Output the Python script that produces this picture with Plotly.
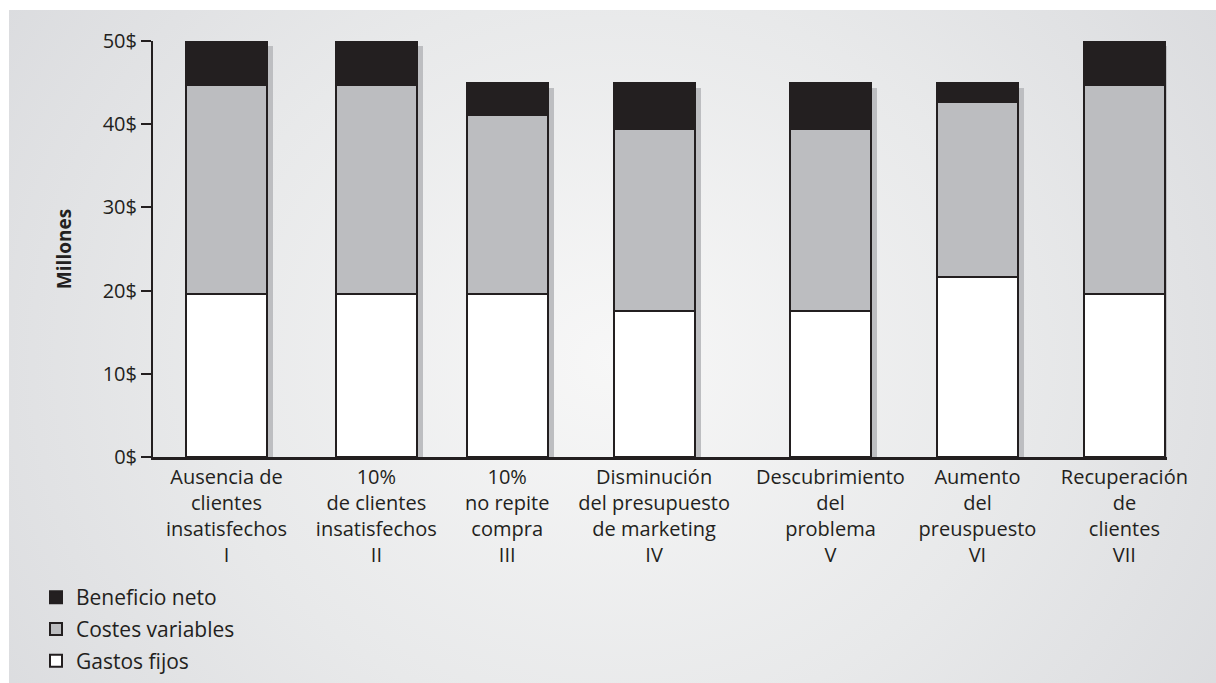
import base64
import numpy as np
import plotly.graph_objects as go

# ---- data ----
categories = [
    "Ausencia de<br>clientes<br>insatisfechos<br>I",
    "10%<br>de clientes<br>insatisfechos<br>II",
    "10%<br>no repite<br>compra<br>III",
    "Disminución<br>del presupuesto<br>de marketing<br>IV",
    "Descubrimiento<br>del<br>problema<br>V",
    "Aumento<br>del<br>preuspuesto<br>VI",
    "Recuperación<br>de<br>clientes<br>VII",
]
gastos_fijos = [19.6, 19.6, 19.6, 17.6, 17.6, 21.6, 19.6]
costes_variables = [25.1, 25.1, 21.5, 21.8, 21.8, 21.1, 25.1]
beneficio_neto = [5.3, 5.3, 3.9, 5.6, 5.6, 2.3, 5.3]
y_tickvals = [0, 10, 20, 30, 40, 50]
y_ticktext = ["0$", "10$", "20$", "30$", "40$", "50$"]

# ---- layout helpers (positions / styles) ----
x_pos = [0.50, 1.52, 2.41, 3.41, 4.61, 5.61, 6.61]
bar_w = 0.55
shadow_dx = 0.041
shadow_dy = 0.6

FONT = "Open Sans"
INK = "#231f20"
GRAY = "#bcbdc0"
SHADOW = "#bdbec1"
EDGE = "#dadbde"

fixed = np.array(gastos_fijos)
var = np.array(costes_variables)
ben = np.array(beneficio_neto)
total = fixed + var + ben

fig = go.Figure()

# drop shadows
fig.add_trace(go.Bar(
    x=x_pos, y=total - shadow_dy, base=0, width=bar_w,
    offset=-bar_w / 2 + shadow_dx,
    marker=dict(color=SHADOW, line=dict(width=0)),
    showlegend=False, hoverinfo="skip",
))
fig.add_trace(go.Bar(
    x=x_pos, y=ben, base=fixed + var, width=bar_w, name="Beneficio neto",
    marker=dict(color=INK, line=dict(color=INK, width=2)),
    legendgroup="g1",
))
fig.add_trace(go.Bar(
    x=x_pos, y=var, base=fixed, width=bar_w, name="Costes variables",
    marker=dict(color=GRAY, line=dict(color=INK, width=2)),
    legendgroup="g2",
))
fig.add_trace(go.Bar(
    x=x_pos, y=fixed, base=0, width=bar_w, name="Gastos fijos",
    marker=dict(color="white", line=dict(color=INK, width=2)),
    legendgroup="g3",
))

# gradient panel background
svg = (
    '<svg xmlns="http://www.w3.org/2000/svg" width="1207" height="673" '
    'viewBox="0 0 1207 673" preserveAspectRatio="none">'
    '<defs><radialGradient id="g" cx="0.5" cy="0.52" r="0.62" '
    'gradientTransform="translate(0.5 0.52) scale(1 1.6) translate(-0.5 -0.52)">'
    '<stop offset="0" stop-color="#f7f7f7"/>'
    '<stop offset="0.55" stop-color="#e8e9ea"/>'
    '<stop offset="1" stop-color="#dadbde"/>'
    '</radialGradient></defs>'
    '<rect width="1207" height="673" fill="url(#g)"/></svg>'
)
svg_uri = "data:image/svg+xml;base64," + base64.b64encode(svg.encode()).decode()

L, R, T, B = 153, 49, 41, 226
W, H = 1216, 683
pw, ph = W - L - R, H - T - B
px0, py0 = (9 - L) / pw, (H - B - 10) / ph
px1, py1 = (W - L) / pw, (H - B - H) / ph
pxl = -L / pw
pyt = (H - B) / ph

fig.update_layout(
    width=W, height=H,
    margin=dict(l=L, r=R, t=T, b=B, pad=0, autoexpand=False),
    barmode="overlay",
    paper_bgcolor=EDGE,
    plot_bgcolor="rgba(0,0,0,0)",
    font=dict(family=FONT, size=20, color=INK),
    images=[dict(
        source=svg_uri, xref="paper", yref="paper",
        x=px0, y=py0, sizex=px1 - px0, sizey=py0 - py1,
        xanchor="left", yanchor="top", sizing="stretch", layer="below",
    )],
    shapes=[
        dict(type="rect", xref="paper", yref="paper", x0=pxl, x1=px0,
             y0=py1, y1=pyt, fillcolor="white", line=dict(width=0), layer="below"),
        dict(type="rect", xref="paper", yref="paper", x0=pxl, x1=px1 + 0.05,
             y0=py0, y1=pyt, fillcolor="white", line=dict(width=0), layer="below"),
    ],
    xaxis=dict(
        range=[0, 6.9], tickvals=x_pos, ticktext=categories,
        showgrid=False, zeroline=False, showline=True, linecolor=INK,
        linewidth=2.5, ticks="", tickfont=dict(family=FONT, size=20, color=INK),
        fixedrange=True,
    ),
    yaxis=dict(
        range=[0, 50], tickvals=y_tickvals, ticktext=y_ticktext,
        showgrid=False, zeroline=False, showline=True, linecolor=INK,
        linewidth=2, ticks="outside", ticklen=10, tickwidth=2, tickcolor=INK,
        tickfont=dict(family=FONT, size=20, color=INK),
        title=dict(text="<b>Millones</b>", font=dict(family=FONT, size=19, color=INK),
                   standoff=26),
        fixedrange=True,
    ),
    legend=dict(
        x=(36 - L) / pw, y=(H - B - 577) / ph, xanchor="left", yanchor="top",
        traceorder="grouped", tracegroupgap=1.5,
        bgcolor="rgba(0,0,0,0)", font=dict(family=FONT, size=21, color=INK),
    ),
    bargap=0,
)

fig.write_html(
    "out.html",
    config={"displayModeBar": False},
    post_script=(
        "document.body.style.margin='0';document.body.style.padding='0';"
        "document.body.style.background='" + EDGE + "';"
    ),
)
